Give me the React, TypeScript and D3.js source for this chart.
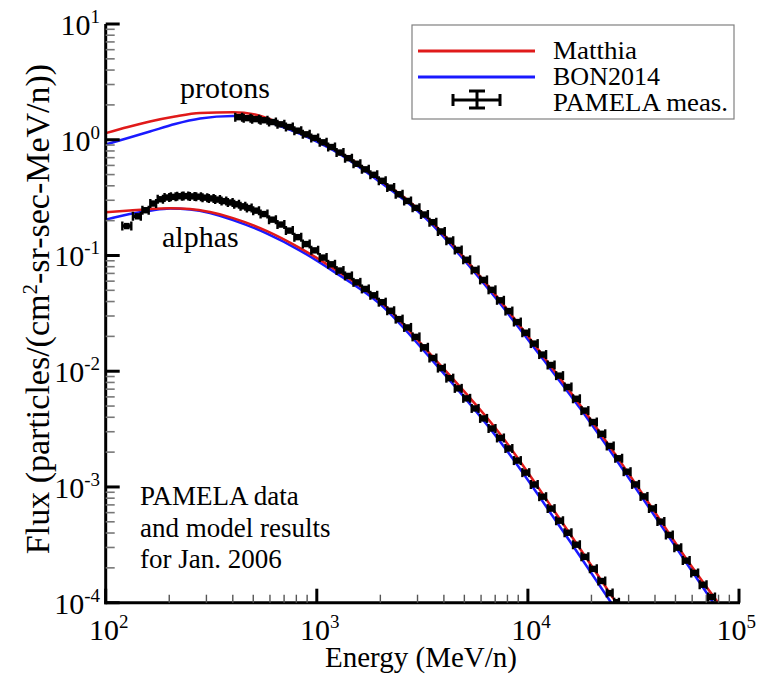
import React from 'react';
import * as d3 from 'd3';

// ---------- data ----------
const protonE = [426.6, 467.7, 512.9, 562.3, 616.6, 676.1, 741.3, 812.8, 891.3, 977.2, 1072, 1175, 1288, 1413, 1549, 1698, 1862, 2042, 2239, 2455, 2692, 2951, 3236, 3548, 3890, 4266, 4677, 5129, 5623, 6166, 6761, 7413, 8128, 8913, 9772, 10720, 11750, 12880, 14130, 15490, 16980, 18620, 20420, 22390, 24550, 26920, 29510, 32360, 35480, 38900, 42660, 46770, 51290, 56230, 61660, 67610, 74130];
const protonFlux = [1.567, 1.537, 1.507, 1.474, 1.422, 1.359, 1.288, 1.198, 1.114, 1.036, 0.95, 0.865, 0.775, 0.693, 0.62, 0.555, 0.498, 0.442, 0.386, 0.338, 0.296, 0.258, 0.226, 0.194, 0.1614, 0.1343, 0.1117, 0.0918, 0.075, 0.0615, 0.0505, 0.041, 0.0331, 0.0266, 0.0215, 0.01733, 0.01393, 0.01132, 0.00916, 0.00731, 0.00578, 0.00457, 0.00364, 0.00288, 0.00226, 0.00177, 0.001355, 0.001052, 8.28e-4, 6.52e-4, 5.02e-4, 3.85e-4, 2.99e-4, 2.31e-4, 1.81e-4, 1.43e-4, 1.12e-4];

const alphaE = [125.9, 141.3, 154.9, 167.9, 182.0, 195.0, 208.9, 223.9, 239.9, 257.0, 275.4, 295.1, 316.2, 338.8, 363.1, 389.0, 416.9, 446.7, 478.6, 512.9, 562.3, 616.6, 676.1, 741.3, 812.8, 891.3, 977.2, 1072, 1175, 1288, 1413, 1549, 1698, 1862, 2042, 2239, 2455, 2692, 2951, 3236, 3548, 3890, 4266, 4677, 5129, 5623, 6166, 6761, 7413, 8128, 8913, 9772, 10720, 11750, 12880, 14130, 15490, 16980, 18620, 20420, 22390, 24550, 26300];
const alphaFlux = [0.1795, 0.218, 0.246, 0.281, 0.306, 0.317, 0.321, 0.325, 0.326, 0.324, 0.322, 0.316, 0.311, 0.304, 0.295, 0.287, 0.277, 0.266, 0.257, 0.244, 0.228, 0.204, 0.185, 0.164, 0.144, 0.1255, 0.1107, 0.0959, 0.0839, 0.0741, 0.0666, 0.0586, 0.0514, 0.0453, 0.0395, 0.0333, 0.0282, 0.0239, 0.0198, 0.0161, 0.013, 0.01064, 0.00871, 0.00711, 0.00583, 0.00477, 0.00391, 0.0032, 0.00265, 2.15e-3, 1.69e-3, 1.33e-3, 1.05e-3, 8.24e-4, 6.5e-4, 5.11e-4, 4.02e-4, 3.17e-4, 2.49e-4, 1.96e-4, 1.54e-4, 1.21e-4, 1.01e-4];

const matthiaProtonE = [100, 127.5, 162, 213, 280, 401, 510, 670, 1000, 1156, 1500, 1995, 2700, 3443, 4775, 7160, 11830, 17700, 26500, 38800, 56900, 80660];
const matthiaProtonFlux = [1.14, 1.288, 1.437, 1.587, 1.701, 1.729, 1.651, 1.39, 1.0, 0.87, 0.655, 0.449, 0.30, 0.202, 0.105, 0.0437, 0.0135, 5.09e-3, 1.81e-3, 6.56e-4, 2.33e-4, 9.7e-5];
const bonProtonE = [100, 127.5, 162, 213, 280, 401, 510, 670, 1000, 1156, 1500, 1995, 2700, 3443, 4775, 7160, 11830, 17700, 26500, 38800, 56900, 76380];
const bonProtonFlux = [0.909, 1.034, 1.177, 1.367, 1.525, 1.603, 1.54, 1.313, 0.965, 0.84, 0.625, 0.431, 0.285, 0.1925, 0.1, 0.0412, 0.0126, 4.75e-3, 1.67e-3, 6.05e-4, 2.15e-4, 9.7e-5];

const matthiaAlphaE = [100, 130, 162, 202, 251, 312, 401, 581, 833, 1194, 1995, 3516, 7396, 14240, 26500];
const matthiaAlphaFlux = [0.2358, 0.2443, 0.2518, 0.2553, 0.2518, 0.2371, 0.2104, 0.1625, 0.1159, 0.0778, 0.0403, 0.01351, 2.85e-3, 5.2e-4, 9.7e-5];
const bonAlphaE = [100, 130, 162, 202, 251, 312, 401, 581, 833, 1194, 1995, 3516, 7396, 14240, 25080];
const bonAlphaFlux = [0.204, 0.228, 0.2434, 0.2543, 0.2492, 0.2325, 0.2023, 0.1546, 0.1103, 0.0733, 0.038, 0.01247, 2.46e-3, 4.49e-4, 9.7e-5];

const xTickValues = [1e2, 1e3, 1e4, 1e5];
const xTickExponents = ['2', '3', '4', '5'];
const yTickValues = [1e-4, 1e-3, 1e-2, 1e-1, 1e0, 1e1];
const yTickExponents = ['-4', '-3', '-2', '-1', '0', '1'];

const legendLabels = ['Matthia', 'BON2014', 'PAMELA meas.'];
const legendTextLengths = [84, 107, 175];
const noteLines = ['PAMELA data', 'and model results', 'for Jan. 2006'];

const RED = '#e01a1a';
const BLUE = '#1a1aff';
const FONT = '"Liberation Serif", "Times New Roman", Times, "DejaVu Serif", serif';

export default function App() {
  const W = 757, H = 675;
  const x0 = 105.7, x1 = 739, y0 = 24, y1 = 602.7;
  const x = d3.scaleLog().domain([1e2, 1e5]).range([x0, x1]);
  const y = d3.scaleLog().domain([1e-4, 1e1]).range([y1, y0]);

  const line = d3.line<[number, number]>()
    .x(d => x(d[0]))
    .y(d => y(d[1]))
    .curve(d3.curveMonotoneX);

  const zip = (a: number[], b: number[]) => a.map((v, i) => [v, b[i]] as [number, number]);

  const xMinor: number[] = [];
  for (let k = 2; k <= 4; k++) for (let m = 2; m <= 9; m++) xMinor.push(m * Math.pow(10, k));
  const yMinor: number[] = [];
  for (let k = -4; k <= 0; k++) for (let m = 2; m <= 9; m++) yMinor.push(m * Math.pow(10, k));

  const markers = (E: number[], F: number[], key: string) =>
    E.map((e, i) => {
      const prev = i > 0 ? E[i - 1] : e * e / E[i + 1];
      const next = i < E.length - 1 ? E[i + 1] : e * e / E[i - 1];
      const lo = Math.sqrt(prev * e);
      const hi = Math.sqrt(e * next);
      const cx = x(e), cy = y(F[i]);
      const xl = x(lo) + 0.8, xh = x(hi) - 0.8;
      return (
        <g key={key + i}>
          <line x1={xl} x2={xh} y1={cy} y2={cy} stroke="#000" strokeWidth={3.5} />
          <line x1={xl} x2={xl} y1={cy - 4.5} y2={cy + 4.5} stroke="#000" strokeWidth={2.4} />
          <line x1={xh} x2={xh} y1={cy - 4.5} y2={cy + 4.5} stroke="#000" strokeWidth={2.4} />
          <rect x={cx - 2.8} y={cy - 3.2} width={5.6} height={6.4} fill="#000" />
        </g>
      );
    });

  const txt: React.CSSProperties = { fontFamily: FONT };

  return (
    <svg width={W} height={H} style={{ position: 'absolute', left: 0, top: 0, background: '#fff', fontFamily: FONT }}>
      <defs>
        <clipPath id="plotClip">
          <rect x={x0} y={y0} width={x1 - x0} height={y1 - y0} />
        </clipPath>
      </defs>
      <rect x={0} y={0} width={W} height={H} fill="#fff" />

      <g clipPath="url(#plotClip)">
        <path d={line(zip(bonProtonE, bonProtonFlux)) || ''} fill="none" stroke={BLUE} strokeWidth={2.5} />
        <path d={line(zip(matthiaProtonE, matthiaProtonFlux)) || ''} fill="none" stroke={RED} strokeWidth={2.5} />
        <path d={line(zip(bonAlphaE, bonAlphaFlux)) || ''} fill="none" stroke={BLUE} strokeWidth={2.5} />
        <path d={line(zip(matthiaAlphaE, matthiaAlphaFlux)) || ''} fill="none" stroke={RED} strokeWidth={2.5} />
        {markers(protonE, protonFlux, 'p')}
        {markers(alphaE, alphaFlux, 'a')}
      </g>

      {/* axes */}
      <line x1={x0} x2={x0} y1={y0} y2={y1 + 1.5} stroke="#000" strokeWidth={3} />
      <line x1={x0 - 1.5} x2={x1 + 1} y1={y1} y2={y1} stroke="#000" strokeWidth={3} />

      {yMinor.map((v, i) => (
        <line key={'ym' + i} x1={x0} x2={x0 + 9} y1={y(v)} y2={y(v)} stroke="#777" strokeWidth={1.6} />
      ))}
      {yTickValues.map((v, i) => (
        <line key={'yM' + i} x1={x0} x2={x0 + 14} y1={y(v)} y2={y(v)} stroke="#000" strokeWidth={3} />
      ))}
      {xMinor.map((v, i) => (
        <line key={'xm' + i} x1={x(v)} x2={x(v)} y1={y1} y2={y1 - 8} stroke="#555" strokeWidth={1.4} />
      ))}
      {xTickValues.map((v, i) => (
        <line key={'xM' + i} x1={x(v)} x2={x(v)} y1={y1} y2={y1 - 14} stroke="#000" strokeWidth={3} />
      ))}

      {/* tick labels */}
      {yTickValues.map((v, i) => (
        <text key={'yl' + i} x={100} y={y(v) + 11} textAnchor="end" fontSize={30} fill="#000" style={txt}>
          10<tspan dy={-12} fontSize={19}>{yTickExponents[i]}</tspan>
        </text>
      ))}
      {xTickValues.map((v, i) => {
        const last = i === xTickValues.length - 1;
        return (
          <text key={'xl' + i} x={last ? 756 : x(v) + 3} y={640} textAnchor={last ? 'end' : 'middle'} fontSize={30} fill="#000" style={txt}>
            10<tspan dy={-12} fontSize={19}>{xTickExponents[i]}</tspan>
          </text>
        );
      })}

      {/* axis titles */}
      <text x={421} y={667} textAnchor="middle" fontSize={29} fill="#000" style={txt}>Energy (MeV/n)</text>
      <text transform="translate(49,309) rotate(-90)" textAnchor="middle" fontSize={34} fill="#000" style={txt}>
        Flux (particles/(cm<tspan dy={-12} fontSize={21}>2</tspan><tspan dy={12}>-sr-sec-MeV/n))</tspan>
      </text>

      {/* curve labels */}
      <text x={180} y={98} fontSize={30} fill="#000" style={txt}>protons</text>
      <text x={162} y={247} fontSize={30} fill="#000" style={txt}>alphas</text>

      {/* note */}
      {noteLines.map((t, i) => (
        <text key={'n' + i} x={140} y={505 + i * 31.6} fontSize={27} fill="#000" style={txt}>{t}</text>
      ))}

      {/* legend */}
      <rect x={412} y={25} width={322} height={94} fill="#fff" stroke="#808080" strokeWidth={1.2} />
      <line x1={418} x2={535} y1={51} y2={51} stroke={RED} strokeWidth={3} />
      <line x1={418} x2={535} y1={77} y2={77} stroke={BLUE} strokeWidth={3} />
      <g stroke="#000" strokeWidth={3}>
        <line x1={453} x2={500} y1={100} y2={100} />
        <line x1={453} x2={453} y1={94} y2={106} />
        <line x1={500} x2={500} y1={94} y2={106} />
        <line x1={477} x2={477} y1={91} y2={108} />
        <line x1={469} x2={485} y1={91} y2={91} />
        <line x1={469} x2={485} y1={108} y2={108} />
      </g>
      {legendLabels.map((t, i) => (
        <text key={'lg' + i} x={553} y={59 + i * 26} fontSize={25} textLength={legendTextLengths[i]} lengthAdjust="spacingAndGlyphs" fill="#000" style={txt}>{t}</text>
      ))}
    </svg>
  );
}
